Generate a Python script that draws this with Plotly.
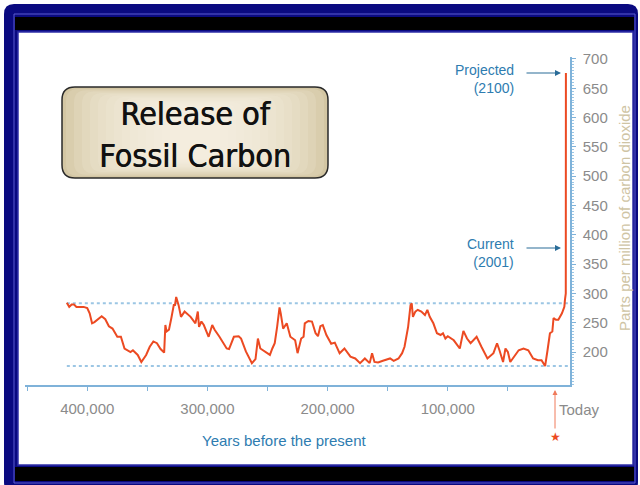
import plotly.graph_objects as go

# CO2 record (Vostok-style), years before present and ppm
years_bp = [417000, 415000, 413000, 411000, 409000, 403000, 400000, 398000, 396000, 394000,
            388000, 385000, 382000, 379000, 375000, 372000, 369000, 364000, 362000, 358000,
            355000, 351000, 348000, 345000, 342000, 339000, 336000, 335000, 334000, 332000,
            330000, 328000, 327000, 326000, 324000, 322000, 319000, 314000, 310000, 308000,
            307000, 305000, 303000, 299000, 296000, 294000, 290000, 284000, 282000, 278000,
            274000, 272000, 268000, 263000, 260000, 258000, 256000, 252000, 248000, 246000,
            244000, 242000, 240000, 239000, 237000, 234000, 231000, 227000, 225000, 222000,
            220000, 219000, 216000, 213000, 210000, 208000, 206000, 204000, 201000, 197000,
            194000, 190000, 186000, 181000, 177000, 173000, 169000, 165000, 163000, 161000,
            158000, 154000, 148000, 145000, 141000, 138000, 136000, 133000, 131000, 130000,
            129000, 127000, 125000, 122000, 119000, 117000, 115000, 112000, 109000, 106000,
            104000, 102000, 100000, 95000, 90000, 87000, 84000, 81000, 76000, 72000,
            67000, 62000, 59000, 57000, 54000, 52000, 50000, 48000, 46000, 41000,
            37000, 33000, 29000, 25000, 22000, 19000, 17000, 15000, 13000, 12000,
            10000, 8000, 5000, 3000, 2500, 1800, 1700]
co2_ppm = [284, 277, 281, 281, 277, 277, 275, 266, 249, 251,
           261, 256, 244, 240, 226, 226, 206, 200, 203, 195,
           183, 195, 209, 218, 215, 205, 199, 246, 235, 238,
           258, 280, 280, 294, 280, 260, 269, 260, 249, 269,
           243, 252, 246, 226, 246, 238, 226, 206, 205, 226,
           227, 223, 201, 181, 188, 223, 206, 200, 195, 206,
           215, 243, 276, 266, 240, 249, 226, 220, 198, 223,
           226, 249, 253, 252, 232, 227, 244, 246, 229, 214,
           216, 198, 206, 192, 189, 181, 189, 181, 198, 183,
           182, 185, 189, 185, 189, 198, 209, 243, 280, 283,
           260, 269, 272, 269, 263, 272, 260, 249, 232, 229,
           232, 223, 227, 220, 206, 236, 223, 215, 226, 209,
           189, 198, 215, 203, 183, 206, 200, 183, 189, 203,
           206, 203, 189, 186, 186, 176, 203, 232, 235, 258,
           255, 255, 266, 277, 289, 300, 676]

ref_levels = [283, 176]
x_tickvals = [450000, 400000, 350000, 300000, 250000, 200000, 150000, 100000, 50000]
x_ticktext = ["", "400,000", "", "300,000", "", "200,000", "", "100,000", ""]
y_tickvals = [200, 250, 300, 350, 400, 450, 500, 550, 600, 650, 700]

W, H = 640, 485
L, R, T, B = 25, 70, 57, 100


def px(x):
    return (x - L) / (W - L - R)


def py(y):
    return (H - B - y) / (H - T - B)


def rrect(x0, y0, x1, y1, r):
    pts = [("M", x0 + r, y0), ("L", x1 - r, y0), ("Q", x1, y0, x1, y0 + r),
           ("L", x1, y1 - r), ("Q", x1, y1, x1 - r, y1), ("L", x0 + r, y1),
           ("Q", x0, y1, x0, y1 - r), ("L", x0, y0 + r), ("Q", x0, y0, x0 + r, y0)]
    out = ""
    for p in pts:
        c = p[0]
        vals = p[1:]
        s = " ".join(f"{px(vals[i]):.5f},{py(vals[i + 1]):.5f}" for i in range(0, len(vals), 2))
        out += f"{c} {s} "
    return out + "Z"


def rect(x0, y0, x1, y1, fill, line=None, lw=0):
    return dict(type="rect", xref="paper", yref="paper", layer="below",
                x0=px(x0), x1=px(x1), y0=py(y1), y1=py(y0), fillcolor=fill,
                line=dict(color=line or fill, width=lw))


fig = go.Figure()
fig.add_trace(go.Scatter(x=years_bp, y=co2_ppm, mode="lines",
                         line=dict(color="#ec4a22", width=2), cliponaxis=False,
                         hoverinfo="skip"))

shapes = [
    dict(type="path", xref="paper", yref="paper", layer="below", path=rrect(4, 4, 638, 492, 10),
         fillcolor="#0a0a80", line=dict(width=0)),
    rect(14, 14, 635, 483, "rgba(0,0,0,0)", "#5a5ad0", 1),
    rect(15, 17, 634, 30, "#000000"),
    rect(15, 467, 634, 481, "#000000"),
    rect(18, 32, 633, 465, "#ffffff", "#3030a8", 1.5),
    dict(type="path", xref="paper", yref="paper", layer="below", path=rrect(62, 87, 328, 178, 13),
         fillcolor="#d3c6a3", line=dict(color="#2a2a2a", width=1.5)),
]
# soft beige glow inside the title box, built from thin translucent layers
for i in range(14):
    dx = 4 + i * 8
    dy = 2 + i * 1.3
    shapes.append(dict(type="path", xref="paper", yref="paper", layer="below",
                       path=rrect(62 + dx, 87 + dy, 328 - dx, 178 - dy, 12),
                       fillcolor="rgba(250,244,230,0.16)", line=dict(width=0)))
for lvl in ref_levels:
    shapes.append(dict(type="line", xref="x", yref="y", x0=max(years_bp), x1=0, y0=lvl, y1=lvl,
                       layer="below", line=dict(color="#9cc6e4", width=2, dash="dot")))

blue_txt = "#2e7cb0"
gray_txt = "#8b8b8b"
font = "Liberation Sans, Arial, sans-serif"


def note(text, x, y, **kw):
    d = dict(text=text, x=px(x), y=py(y), xref="paper", yref="paper", showarrow=False,
             xanchor="center", yanchor="middle")
    d.update(kw)
    return d


def arrow(x, y, ax, ay, color, width):
    return dict(text="", x=px(x), y=py(y), xref="paper", yref="paper", ax=ax, ay=ay,
                axref="pixel", ayref="pixel", showarrow=True, arrowhead=2,
                arrowsize=1, arrowwidth=width, arrowcolor=color)


ann = [
    note("Release of<br>Fossil Carbon", 195, 135,
         font=dict(family="Liberation Sans Narrow, Arial Narrow, DejaVu Sans Condensed", size=32,
                   color="#111111", shadow="0.7px 0 0 #111111")),
    note("Projected<br>(2100)", 516, 79, xanchor="right", align="right",
         font=dict(family=font, size=14, color=blue_txt)),
    note("Current<br>(2001)", 516, 253, xanchor="right", align="right",
         font=dict(family=font, size=14, color=blue_txt)),
    arrow(561, 73, -36, 0, "#2a6c98", 1.2),
    arrow(561, 248, -36, 0, "#2a6c98", 1.2),
    note("Today", 557, 409, xanchor="left", font=dict(family=font, size=15, color=gray_txt)),
    arrow(555, 390, 0, 40, "#f07a5a", 1),
    note("★", 555, 437, font=dict(family="DejaVu Sans", size=12, color="#ec4a22")),
    note("Years before the present", 284, 440, font=dict(family=font, size=15, color=blue_txt)),
    note("Parts per million of carbon dioxide", 624, 218, textangle=-90,
         font=dict(family=font, size=15, color="#cfc4a4")),
]

fig.update_layout(
    width=W, height=H, margin=dict(l=L, r=R, t=T, b=B),
    paper_bgcolor="#ffffff", plot_bgcolor="rgba(0,0,0,0)",
    showlegend=False, shapes=shapes, annotations=ann,
    font=dict(family=font, size=15, color=gray_txt),
)
fig.update_xaxes(range=[451800, -1700], tickvals=x_tickvals, ticktext=x_ticktext,
                 showgrid=False, zeroline=False, showline=True, linecolor="#7fb2d9",
                 linewidth=1.5, ticks="outside", ticklen=4, tickcolor="#7fb2d9",
                 ticklabelstandoff=5, tickfont=dict(size=15, color=gray_txt))
fig.update_yaxes(range=[143.7, 703.4], side="right", tickvals=y_tickvals,
                 showgrid=False, zeroline=False, showline=True, linecolor="#7fb2d9",
                 linewidth=1.5, ticks="outside", ticklen=4, tickcolor="#7fb2d9",
                 minor=dict(dtick=5, ticks="outside", ticklen=2, tickcolor="#9cc6e4"),
                 ticklabelstandoff=4, tickfont=dict(size=15, color=gray_txt))

fig.write_html("out.html", config={"displayModeBar": False},
               post_script="document.body.style.margin='0';")
